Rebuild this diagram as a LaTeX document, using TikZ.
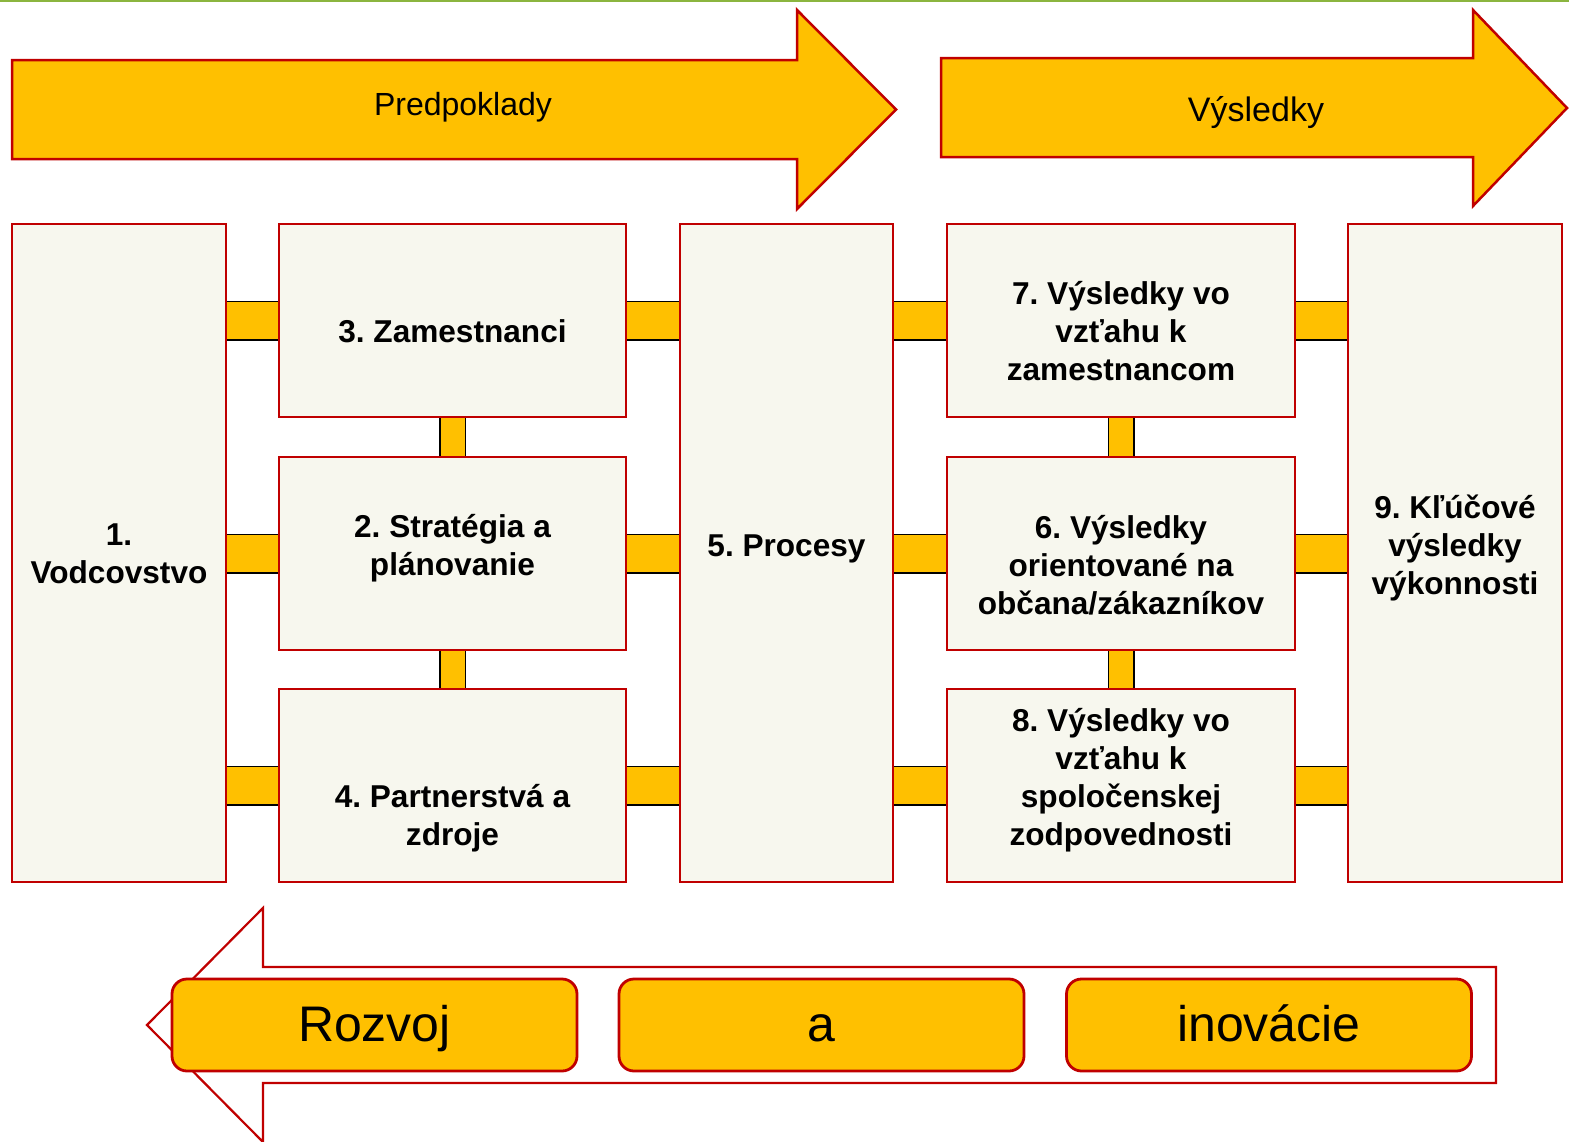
\documentclass[tikz,border=0pt]{standalone}
\usepackage{fontspec}
\setmainfont{Liberation Sans}
\frenchspacing
\usetikzlibrary{backgrounds}
\definecolor{boxred}{HTML}{C00000}
\definecolor{gold}{HTML}{FFC000}
\definecolor{cream}{HTML}{F7F7EE}
\definecolor{topgreen}{HTML}{8BB53F}
\tikzset{
  area/.style={draw=boxred, line width=1.25pt, fill=cream, inner sep=0pt},
  tallbox/.style={area, minimum width=107pt, minimum height=329pt},
  widebox/.style={area, minimum width=173.5pt, minimum height=96.5pt},
  lbl/.style={font=\bfseries\fontsize{15.8pt}{19pt}\selectfont, align=center, inner sep=0pt},
  hlink/.style={draw=black, line width=0.75pt, double=gold, double distance=18.5pt},
  vlink/.style={draw=black, line width=0.75pt, double=gold, double distance=12pt},
  bigarrow/.style={draw=boxred, line width=1.25pt, fill=gold, line join=miter},
  backarrow/.style={draw=boxred, line width=1.1pt},
  pill/.style={draw=boxred, line width=1.4pt, fill=gold, rounded corners=7.5pt,
    minimum width=202.5pt, minimum height=46pt, inner sep=0pt,
    text height=18pt, text depth=1.3pt,
    font=\fontsize{25pt}{30pt}\selectfont},
  headtext/.style={inner sep=0pt}
}
\begin{document}
\begin{tikzpicture}[x=0.5pt, y=-0.5pt]
\useasboundingbox (0,0) rectangle (1569,1141);
\clip (0,0) rectangle (1569,1141);

% thin rule along the top edge
\draw[topgreen, line width=0.8pt] (0,0.8) -- (1569,0.8);

% top arrows
\draw[bigarrow] (12,60) -- (797,60) -- (797,10) -- (896,109.5) -- (797,209)
  -- (797,159) -- (12,159) -- cycle;
\node[headtext, font=\fontsize{16pt}{19pt}\selectfont] (pred) at (463,107) {Predpoklady};
\draw[bigarrow] (941,58) -- (1473,58) -- (1473,10) -- (1567,108) -- (1473,206)
  -- (1473,157) -- (941,157) -- cycle;
\node[headtext, font=\fontsize{17pt}{20pt}\selectfont] (vys) at (1256,113) {Výsledky};

% criteria boxes
\node[tallbox] (b1) at (119,553) {};
\node[widebox] (b3) at (452.5,320.5) {};
\node[widebox] (b2) at (452.5,553.5) {};
\node[widebox] (b4) at (452.5,785.5) {};
\node[tallbox, minimum width=106.5pt] (b5) at (786.5,553) {};
\node[widebox, minimum width=174pt] (b7) at (1121,320.5) {};
\node[widebox, minimum width=174pt] (b6) at (1121,553.5) {};
\node[widebox, minimum width=174pt] (b8) at (1121,785.5) {};
\node[tallbox] (b9) at (1455,553) {};

% box labels
\node[lbl] (t1) at (119,554) {1.\\Vodcovstvo};
\node[lbl] (t3) at (452.5,331) {3. Zamestnanci};
\node[lbl] (t2) at (452.5,548) {2. Stratégia a\\plánovanie};
\node[lbl] (t4) at (452.5,818) {4. Partnerstvá a\\zdroje};
\node[lbl] (t5) at (786.5,549) {5. Procesy};
\node[lbl] (t7) at (1121,331) {7. Výsledky vo\\vzťahu k\\zamestnancom};
\node[lbl] (t6) at (1121,565) {6. Výsledky\\orientované na\\občana/zákazníkov};
\node[lbl] (t8) at (1121,780) {8. Výsledky vo\\vzťahu k\\spoločenskej\\zodpovednosti};
\node[lbl] (t9) at (1455,548) {9. Kľúčové\\výsledky\\výkonnosti};

% links between the boxes, kept behind the boxes
\begin{scope}[on background layer]
  \fill[white] (0,0) rectangle (1569,1141);
  \foreach \r in {b3,b2,b4}{
    \draw[hlink] (b1.east |- \r.west) -- (\r.west);
    \draw[hlink] (\r.east) -- (b5.west |- \r.east);
  }
  \foreach \r in {b7,b6,b8}{
    \draw[hlink] (b5.east |- \r.west) -- (\r.west);
    \draw[hlink] (\r.east) -- (b9.west |- \r.east);
  }
  \draw[vlink] (b3.south) -- (b2.north);
  \draw[vlink] (b2.south) -- (b4.north);
  \draw[vlink] (b7.south) -- (b6.north);
  \draw[vlink] (b6.south) -- (b8.north);
\end{scope}

% bottom arrow pointing back
\draw[backarrow] (1496,967) -- (263,967) -- (263,908) -- (147,1025) -- (263,1142)
  -- (263,1083) -- (1496,1083) -- cycle;

\node[pill] (p1) at (374.5,1025) {Rozvoj};
\node[pill] (p2) at (821.5,1025) {a};
\node[pill] (p3) at (1269,1025) {inovácie};
\end{tikzpicture}
\end{document}
